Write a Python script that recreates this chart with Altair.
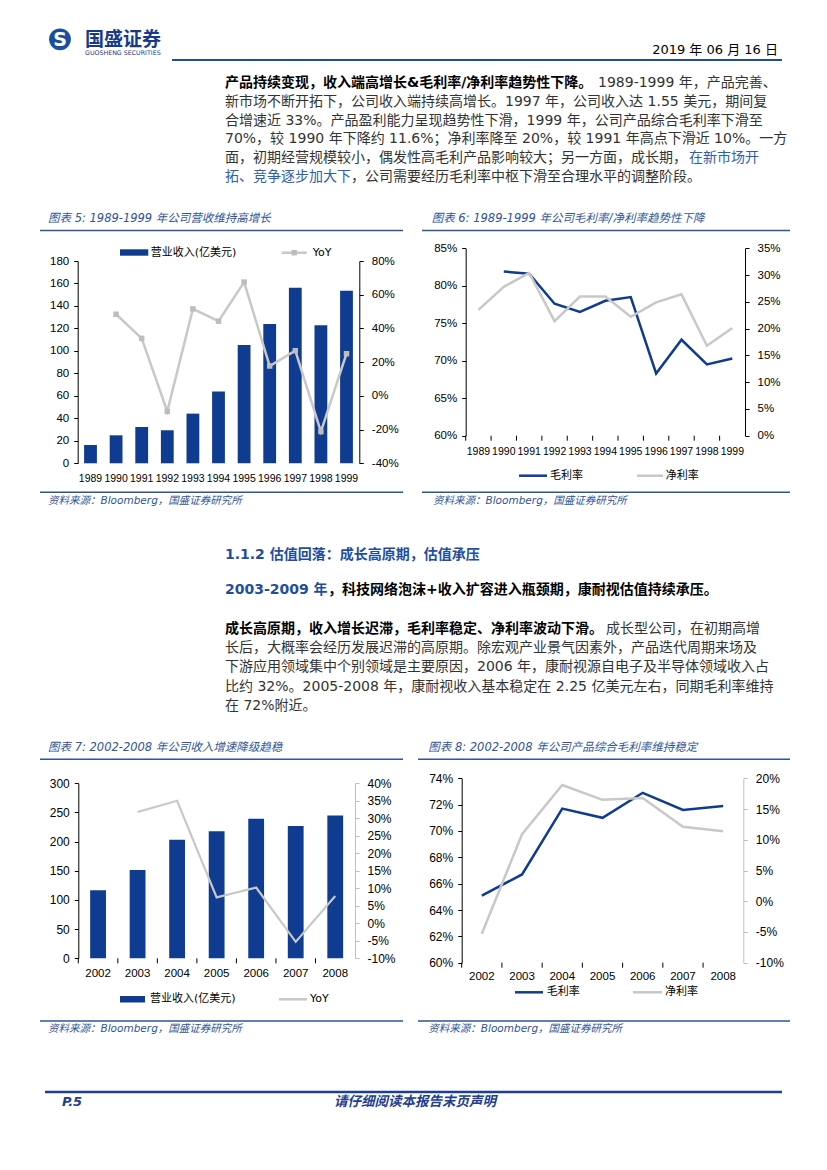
import altair as alt
import pandas as pd

# ---------------- data ----------------
years_a = ["1989", "1990", "1991", "1992", "1993", "1994", "1995", "1996", "1997", "1998", "1999"]
revenue_a = [16.3, 24.9, 32.3, 29.4, 44.2, 63.8, 105.3, 124.0, 156.3, 122.8, 153.6]
yoy_a = [None, 48.4, 34.1, -9.2, 51.6, 44.3, 67.5, 17.7, 26.8, -21.2, 25.0]
gross_a = [None, 81.9, 81.6, 77.6, 76.5, 78.0, 78.5, 68.3, 72.8, 69.5, 70.3]
net_a = [23.5, 27.8, 30.4, 21.4, 26.0, 26.0, 22.2, 24.9, 26.4, 16.8, 20.1]

years_b = ["2002", "2003", "2004", "2005", "2006", "2007", "2008"]
revenue_b = [116.6, 151.4, 203.4, 217.7, 239.4, 226.9, 244.6]
yoy_b = [None, 31.8, 35.0, 7.4, 10.2, -5.3, 7.8]
gross_b = [65.1, 66.7, 71.7, 71.0, 72.9, 71.6, 71.9]
net_b = [-5.3, 10.9, 18.9, 16.5, 16.8, 12.1, 11.4]

ticks5_left = [0, 20, 40, 60, 80, 100, 120, 140, 160, 180]
ticks5_right = [-40, -20, 0, 20, 40, 60, 80]
ticks6_left = [60, 65, 70, 75, 80, 85]
ticks6_right = [0, 5, 10, 15, 20, 25, 30, 35]
ticks7_left = [0, 50, 100, 150, 200, 250, 300]
ticks7_right = [-10, -5, 0, 5, 10, 15, 20, 25, 30, 35, 40]
ticks8_left = [60, 62, 64, 66, 68, 70, 72, 74]
ticks8_right = [-10, -5, 0, 5, 10, 15, 20]

legend_revenue = "营业收入(亿美元)"
legend_yoy = "YoY"
legend_gross = "毛利率"
legend_net = "净利率"

logo_cn = "国盛证券"
logo_en = "GUOSHENG SECURITIES"
report_date = "2019 年 06 月 16 日"

para1 = [
    [("产品持续变现，收入端高增长&毛利率/净利率趋势性下降。", "bold"), ("1989-1999 年，产品完善、", "normal")],
    [("新市场不断开拓下，公司收入端持续高增长。1997 年，公司收入达 1.55 美元，期间复", "normal")],
    [("合增速近 33%。产品盈利能力呈现趋势性下滑，1999 年，公司产品综合毛利率下滑至", "normal")],
    [("70%，较 1990 年下降约 11.6%；净利率降至 20%，较 1991 年高点下滑近 10%。一方", "normal")],
    [("面，初期经营规模较小，偶发性高毛利产品影响较大；另一方面，成长期，", "normal"), ("在新市场开", "link")],
    [("拓、竞争逐步加大下", "link"), ("，公司需要经历毛利率中枢下滑至合理水平的调整阶段。", "normal")],
]
section_title = "1.1.2  估值回落：成长高原期，估值承压"
section_lead = [("2003-2009 年", "headblue"), ("，科技网络泡沫+收入扩容进入瓶颈期，康耐视估值持续承压。", "bold")]
para2 = [
    [("成长高原期，收入增长迟滞，毛利率稳定、净利率波动下滑。", "bold"), ("成长型公司，在初期高增", "normal")],
    [("长后，大概率会经历发展迟滞的高原期。除宏观产业景气因素外，产品迭代周期来场及", "normal")],
    [("下游应用领域集中个别领域是主要原因，2006 年，康耐视源自电子及半导体领域收入占", "normal")],
    [("比约 32%。2005-2008 年，康耐视收入基本稳定在 2.25 亿美元左右，同期毛利率维持", "normal")],
    [("在 72%附近。", "normal")],
]
cap5 = "图表 5:  1989-1999 年公司营收维持高增长"
cap6 = "图表 6:  1989-1999 年公司毛利率/净利率趋势性下降"
cap7 = "图表 7:  2002-2008 年公司收入增速降级趋稳"
cap8 = "图表 8:  2002-2008 年公司产品综合毛利率维持稳定"
source = "资料来源：Bloomberg，国盛证券研究所"
page_no = "P.5"
footer_note = "请仔细阅读本报告末页声明"

# ---------------- styling / layout ----------------
W, H = 811, 1146
NAVY = "#0F3C91"
GREY = "#C8C8C8"
GREY_M = "#BDBDBD"
CAP = "#2F5597"
HEAD = "#1F4E9E"
FOOT = "#1F3F8F"
INK = "#333333"
LINK = "#2F5DB0"
BODY = "DejaVu Sans, Noto Sans CJK SC"
LABEL = "Liberation Sans, DejaVu Sans"

SEG_STYLE = {
    "bold": dict(color="#000000", fontWeight="bold"),
    "normal": dict(color=INK, fontWeight="normal"),
    "link": dict(color=LINK, fontWeight="normal"),
    "headblue": dict(color=HEAD, fontWeight="bold"),
}


def V(p):
    return p - 8  # page pixel -> view pixel


ONE = pd.DataFrame({"k": [0]})


def txt(s, x, y, size=14, color=INK, weight="normal", style="normal", align="left", font=BODY):
    return alt.Chart(ONE).mark_text(
        text=s, align=align, baseline="middle", fontSize=size, color=color,
        fontWeight=weight, fontStyle=style, font=font
    ).encode(x=alt.value(V(x)), y=alt.value(V(y)))


def hrule(x1, x2, y, color, w):
    return alt.Chart(ONE).mark_rule(color=color, strokeWidth=w).encode(
        x=alt.value(V(x1)), x2=alt.value(V(x2)), y=alt.value(V(y)))


def box(x1, x2, y1, y2, color):
    return alt.Chart(ONE).mark_rect(color=color).encode(
        x=alt.value(V(x1)), x2=alt.value(V(x2)), y=alt.value(V(y1)), y2=alt.value(V(y2)))


def dot(x, y, size, color, shape="circle"):
    return alt.Chart(ONE).mark_point(shape=shape, filled=True, size=size, color=color, opacity=1).encode(
        x=alt.value(V(x)), y=alt.value(V(y)))


def y_axis(orient, x_page, values, pct, color="#000000", size=11.5):
    off = -V(x_page) if orient == "left" else V(x_page) - W
    kw = dict(
        orient=orient, offset=off, values=values, title=None, grid=False,
        domainColor=color, domainWidth=1, tickColor=color, tickSize=4, tickWidth=1,
        labelColor="#000000", labelFont=LABEL, labelFontSize=size,
        labelPadding=5 if orient == "left" else 8, labelOverlap=False, labelFlush=False, zindex=1,
    )
    if pct:
        kw["labelExpr"] = "datum.value + '%'"
    return alt.Axis(**kw)


def x_axis(y_page):
    # domain line only; labels and ticks are drawn below through the same band scale
    return alt.Axis(orient="bottom", offset=V(y_page) - H, title=None, grid=False,
                    domainColor="#000000", domainWidth=1, ticks=False, labels=False, zindex=1)


def band_scale(years, x0, x1):
    return alt.Scale(type="band", domain=years, range=[V(x0), V(x1)], paddingInner=0, paddingOuter=0)


def band_x(years, x0, x1, axis):
    return alt.X("year:N", scale=band_scale(years, x0, x1), axis=axis)


def lin_y(field, lo, hi, ylo, yhi, axis):
    return alt.Y(f"{field}:Q", scale=alt.Scale(domain=[lo, hi], range=[V(ylo), V(yhi)], nice=False, zero=False),
                 axis=axis)


def x_labels(df, years, x0, x1, y_page, size):
    return alt.Chart(df).mark_text(align="center", baseline="middle", fontSize=size, font=LABEL,
                                   color="#000000").encode(
        x=band_x(years, x0, x1, None), y=alt.value(V(y_page)), text="year:N")


def x_ticks(df, years, x0, x1, y_page):
    return alt.Chart(df).mark_rule(color="#000000", strokeWidth=1).encode(
        x=alt.X("year:N", bandPosition=0, scale=band_scale(years, x0, x1), axis=None),
        y=alt.value(V(y_page)), y2=alt.value(V(y_page + 5)))


# ---------------- page decoration & text ----------------
decor = []
# header
decor.append(dot(60, 39.3, 475, "#1C4EA0"))
decor.append(txt("S", 60, 40, size=19, color="#FFFFFF", weight="bold", font="DejaVu Sans", align="center"))
decor.append(txt(logo_cn, 85, 39.5, size=19, color="#17398C", weight="bold", font="Noto Sans CJK SC"))
decor.append(txt(logo_en, 85, 52.7, size=6.3, color="#17398C", font="DejaVu Sans"))
decor.append(txt(report_date, 778, 50, size=13, color="#000000", align="right"))
decor.append(hrule(172, 782, 60, "#1F4E9B", 2))


def para_line(segs, y, xs):
    out = []
    for (s, kind), x in zip(segs, xs):
        st = SEG_STYLE[kind]
        out.append(txt(s, x, y, size=14, color=st["color"], weight=st["fontWeight"]))
    return out


p1_x = [[225, 598], [225], [225], [225], [225, 689], [225, 351]]
for i, segs in enumerate(para1):
    decor += para_line(segs, 83.3 + 18.7 * i, p1_x[i])

# captions + rules for charts 5/6
decor.append(txt(cap5, 48, 219, size=11.5, color=CAP, style="italic"))
decor.append(txt(cap6, 431.7, 219, size=11.5, color=CAP, style="italic"))
decor.append(hrule(40, 403, 230.5, CAP, 1.5))
decor.append(hrule(422, 790, 230.5, CAP, 1.5))
decor.append(hrule(40, 403, 492.3, CAP, 1.5))
decor.append(hrule(422, 790, 492.3, CAP, 1.5))
decor.append(txt(source, 48, 500.5, size=10.5, color=CAP, style="italic"))
decor.append(txt(source, 433, 500.5, size=10.5, color=CAP, style="italic"))

# section 1.1.2
decor.append(txt(section_title, 225, 555, size=14, color=HEAD, weight="bold"))
decor += para_line(section_lead, 590, [225, 328])
p2_x = [[225, 606], [225], [225], [225], [225]]
for i, segs in enumerate(para2):
    decor += para_line(segs, 629 + 19.2 * i, p2_x[i])

# captions + rules for charts 7/8
decor.append(txt(cap7, 48, 747.7, size=11.5, color=CAP, style="italic"))
decor.append(txt(cap8, 428.3, 747.7, size=11.5, color=CAP, style="italic"))
decor.append(hrule(40, 403, 759.3, CAP, 1.5))
decor.append(hrule(418, 790, 759.3, CAP, 1.5))
decor.append(hrule(40, 403, 1021, CAP, 1.5))
decor.append(hrule(418, 790, 1021, CAP, 1.5))
decor.append(txt(source, 48, 1028.5, size=10.5, color=CAP, style="italic"))
decor.append(txt(source, 428.3, 1028.5, size=10.5, color=CAP, style="italic"))

# footer
decor.append(hrule(45, 782, 1092, FOOT, 2.5))
decor.append(txt(page_no, 62, 1102, size=13, color=FOOT, weight="bold", style="italic", font="DejaVu Sans"))
decor.append(txt(footer_note, 415, 1102, size=13.5, color=FOOT, weight="bold", style="italic", align="center"))

# legends (manual, positioned like the reference)
LG = 11
decor.append(box(120, 148.3, 249.3, 255.7, NAVY))
decor.append(txt(legend_revenue, 150.7, 252.7, size=LG, color="#000000"))
decor.append(hrule(281.7, 306.7, 252.7, GREY, 2.5))
decor.append(dot(294.2, 252.7, 30, GREY_M, "square"))
decor.append(txt(legend_yoy, 312.7, 252.7, size=LG, color="#000000"))

decor.append(hrule(519, 547, 475.7, NAVY, 2.5))
decor.append(txt(legend_gross, 550, 475.7, size=LG, color="#000000"))
decor.append(hrule(637, 663, 475.7, GREY, 2.5))
decor.append(txt(legend_net, 665.7, 475.7, size=LG, color="#000000"))

decor.append(box(120, 145, 996, 1002.5, NAVY))
decor.append(txt(legend_revenue, 150, 999.3, size=LG, color="#000000"))
decor.append(hrule(279, 307, 999.3, GREY, 2.5))
decor.append(txt(legend_yoy, 310, 999.3, size=LG, color="#000000"))

decor.append(hrule(515, 543, 992.3, NAVY, 2.5))
decor.append(txt(legend_gross, 546.7, 992.3, size=LG, color="#000000"))
decor.append(hrule(633, 662, 992.3, GREY, 2.5))
decor.append(txt(legend_net, 665, 992.3, size=LG, color="#000000"))

# ---------------- charts ----------------
df_a = pd.DataFrame({"year": years_a, "revenue": revenue_a, "yoy": yoy_a, "gross": gross_a, "net": net_a})
df_b = pd.DataFrame({"year": years_b, "revenue": revenue_b, "yoy": yoy_b, "gross": gross_b, "net": net_b})

# Chart 5
c5_x0, c5_x1, c5_yb, c5_yt = 77.7, 359.3, 463.3, 261
bars5 = alt.Chart(df_a).mark_bar(color=NAVY, width=alt.RelativeBandSize(0.5)).encode(
    x=band_x(years_a, c5_x0, c5_x1, x_axis(c5_yb)),
    y=lin_y("revenue", 0, 180, c5_yb, c5_yt, y_axis("left", c5_x0, ticks5_left, False)),
)
line5 = alt.Chart(df_a).transform_filter("isValid(datum.yoy)").mark_line(
    color=GREY, strokeWidth=2.5,
    point=alt.OverlayMarkDef(shape="square", filled=True, size=30, color=GREY_M, opacity=1),
).encode(
    x=band_x(years_a, c5_x0, c5_x1, None),
    y=lin_y("yoy", -40, 80, c5_yb, c5_yt, y_axis("right", c5_x1, ticks5_right, True)),
)
lab5 = x_labels(df_a, years_a, c5_x0, c5_x1, 479, 10.5)
c5 = alt.layer(bars5, line5, lab5).resolve_scale(y="independent")

# Chart 6
c6_x0, c6_x1, c6_yb, c6_yt = 465.7, 745, 435.7, 248.3
l6a = alt.Chart(df_a).transform_filter("isValid(datum.gross)").mark_line(color=NAVY, strokeWidth=2.5).encode(
    x=band_x(years_a, c6_x0, c6_x1, x_axis(c6_yb)),
    y=lin_y("gross", 60, 85, c6_yb, c6_yt, y_axis("left", c6_x0, ticks6_left, True)),
)
l6b = alt.Chart(df_a).mark_line(color=GREY, strokeWidth=2.5).encode(
    x=band_x(years_a, c6_x0, c6_x1, None),
    y=lin_y("net", 0, 35, c6_yb, c6_yt, y_axis("right", c6_x1, ticks6_right, True)),
)
lab6 = x_labels(df_a, years_a, c6_x0, c6_x1, 451.7, 10.5)
tk6 = x_ticks(df_a, years_a, c6_x0, c6_x1, c6_yb)
c6 = alt.layer(l6a, l6b, lab6, tk6).resolve_scale(y="independent")

# Chart 7
c7_x0, c7_x1, c7_yb, c7_yt = 78.3, 355, 958.3, 783.3
bars7 = alt.Chart(df_b).mark_bar(color=NAVY, width=alt.RelativeBandSize(0.4)).encode(
    x=band_x(years_b, c7_x0, c7_x1, x_axis(c7_yb)),
    y=lin_y("revenue", 0, 300, c7_yb, c7_yt, y_axis("left", c7_x0, ticks7_left, False, size=12)),
)
line7 = alt.Chart(df_b).transform_filter("isValid(datum.yoy)").mark_line(color=GREY, strokeWidth=2.2).encode(
    x=band_x(years_b, c7_x0, c7_x1, None),
    y=lin_y("yoy", -10, 40, c7_yb, c7_yt, y_axis("right", c7_x1, ticks7_right, True, color="#BFBFBF", size=12)),
)
lab7 = x_labels(df_b, years_b, c7_x0, c7_x1, 974.3, 11.5)
tk7 = x_ticks(df_b, years_b, c7_x0, c7_x1, c7_yb)
c7 = alt.layer(bars7, line7, lab7, tk7).resolve_scale(y="independent")

# Chart 8
c8_x0, c8_x1, c8_yb, c8_yt = 461.7, 743.3, 962.7, 778.3
l8a = alt.Chart(df_b).mark_line(color=NAVY, strokeWidth=2.5).encode(
    x=band_x(years_b, c8_x0, c8_x1, x_axis(c8_yb)),
    y=lin_y("gross", 60, 74, c8_yb, c8_yt, y_axis("left", c8_x0, ticks8_left, True, size=12)),
)
l8b = alt.Chart(df_b).mark_line(color=GREY, strokeWidth=2.5).encode(
    x=band_x(years_b, c8_x0, c8_x1, None),
    y=lin_y("net", -10, 20, c8_yb, c8_yt, y_axis("right", c8_x1, ticks8_right, True, color="#BFBFBF", size=12)),
)
lab8 = x_labels(df_b, years_b, c8_x0, c8_x1, 976.5, 11.5)
tk8 = x_ticks(df_b, years_b, c8_x0, c8_x1, c8_yb)
c8 = alt.layer(l8a, l8b, lab8, tk8).resolve_scale(y="independent")

page = alt.layer(*decor, c5, c6, c7, c8).resolve_scale(
    x="independent", y="independent"
).properties(
    width=W, height=H, autosize=alt.AutoSizeParams(type="none"), padding=0
).configure_view(stroke="transparent")

page.save("out.html", embed_options={"renderer": "svg", "actions": False})
